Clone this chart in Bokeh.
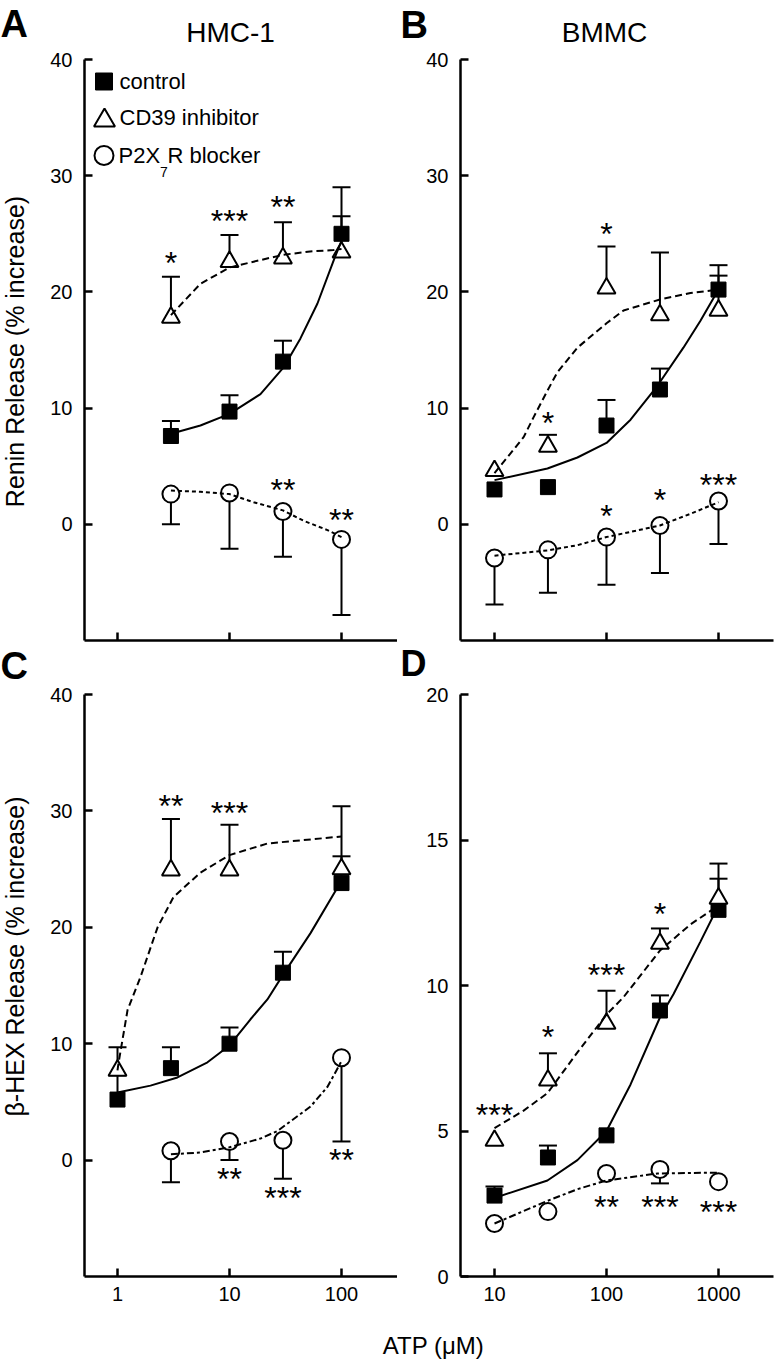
import math
from bokeh.plotting import figure
from bokeh.layouts import column, row
from bokeh.models import Range1d, FixedTicker, PrintfTickFormatter, Label
from bokeh.core.properties import value
from bokeh.embed import file_html
from bokeh.resources import INLINE

FONT = "Liberation Sans"

# ---------------- DATA ----------------
# Panel A : HMC-1, renin release
a_x = [3, 10, 30, 100]
a_ctrl = [7.6, 9.7, 14.0, 25.0]
a_ctrl_sem = [1.3, 1.4, 1.8, 1.5]
a_cd39 = [17.8, 22.6, 22.9, 23.4]
a_cd39_sem = [3.5, 2.3, 3.1, 5.6]
a_p2x7 = [2.6, 2.7, 1.1, -1.3]
a_p2x7_sem = [2.6, 4.8, 3.9, 6.5]
a_fit_ctrl_x = [3, 5.5, 10, 18.9, 30.4, 43, 61, 85, 100]
a_fit_ctrl_y = [7.8, 8.5, 9.5, 11.2, 13.5, 16.0, 19.0, 22.7, 24.4]
a_fit_cd39_x = [3, 5.5, 10, 16.4, 30.4, 55, 85, 100]
a_fit_cd39_y = [18.0, 20.7, 22.1, 22.6, 23.2, 23.5, 23.6, 23.7]
a_fit_p2x7_x = [3, 5.5, 10, 16.4, 30, 46, 75, 100]
a_fit_p2x7_y = [2.9, 2.8, 2.6, 1.9, 1.2, 0.3, -0.5, -1.1]
a_star_x = [3, 10, 30, 30, 100]
a_star_y = [23.0, 26.6, 27.8, 3.5, 0.9]
a_star_t = ["*", "***", "**", "**", "**"]

# Panel B : BMMC, renin release
b_x = [10, 30, 100, 300, 1000]
b_ctrl = [3.0, 3.2, 8.5, 11.6, 20.2]
b_ctrl_sem = [0, 0, 2.2, 1.8, 1.2]
b_cd39 = [4.6, 6.7, 20.3, 18.0, 18.4]
b_cd39_sem = [0, 1.0, 3.6, 5.4, 3.9]
b_p2x7 = [-2.9, -2.2, -1.1, -0.1, 2.0]
b_p2x7_sem = [4.0, 3.7, 4.1, 4.1, 3.7]
b_fit_ctrl_x = [10, 29.7, 55, 100, 164, 284, 486, 688, 1000]
b_fit_ctrl_y = [3.8, 4.8, 5.75, 7.0, 9.0, 11.9, 15.2, 17.5, 20.2]
b_fit_cd39_x = [10, 18.2, 22.3, 29.7, 36.5, 55, 100, 142, 300, 562, 1000]
b_fit_cd39_y = [4.4, 7.5, 9.2, 11.5, 13.1, 15.2, 17.3, 18.4, 19.35, 19.9, 20.2]
b_fit_p2x7_x = [10, 29.7, 55, 100, 300, 562, 1000]
b_fit_p2x7_y = [-2.7, -2.25, -1.8, -1.1, -0.1, 0.9, 1.9]
b_star_x = [30, 100, 100, 300, 1000]
b_star_y = [9.2, 25.5, 1.2, 2.65, 3.9]
b_star_t = ["*", "*", "*", "*", "***"]

# Panel C : HMC-1, beta-HEX release
c_x_ctrl = [1, 3, 10, 30, 100]
c_ctrl = [5.2, 7.9, 10.0, 16.1, 23.8]
c_ctrl_sem = [2.1, 1.8, 1.4, 1.8, 2.3]
c_x_cd39 = [1, 3, 10, 100]
c_cd39 = [7.7, 24.9, 24.9, 25.0]
c_cd39_sem = [2.0, 4.4, 3.9, 5.4]
c_x_p2x7 = [3, 10, 30, 100]
c_p2x7 = [0.8, 1.6, 1.7, 8.8]
c_p2x7_sem = [2.7, 1.6, 3.3, 7.2]
c_fit_ctrl_x = [1, 1.97, 3.43, 6.36, 10, 15.4, 21.8, 30.4, 52.9, 100]
c_fit_ctrl_y = [5.8, 6.4, 7.1, 8.4, 9.85, 12.1, 13.8, 16.0, 19.5, 24.0]
c_fit_cd39_x = [1, 1.02, 1.23, 1.6, 2.28, 3.16, 5.5, 10, 21.8, 100]
c_fit_cd39_y = [7.7, 8.3, 12.9, 15.7, 20.0, 22.6, 24.7, 26.2, 27.2, 27.8]
c_fit_p2x7_x = [3, 5.5, 10, 18.9, 26.8, 52.9, 75, 100]
c_fit_p2x7_y = [0.5, 0.65, 1.1, 1.85, 2.5, 4.6, 6.3, 8.5]
c_star_x = [3, 10, 10, 30, 100]
c_star_y = [30.9, 30.3, -1.15, -2.7, 0.5]
c_star_t = ["**", "***", "**", "***", "**"]

# Panel D : BMMC, beta-HEX release
d_x = [10, 30, 100, 300, 1000]
d_ctrl = [2.78, 4.09, 4.85, 9.14, 12.6]
d_ctrl_sem = [0.31, 0.41, 0, 0.52, 1.07]
d_cd39 = [4.67, 6.74, 8.69, 11.44, 12.99]
d_cd39_sem = [0, 0.93, 1.13, 0.52, 1.2]
d_p2x7 = [1.82, 2.23, 3.54, 3.68, 3.26]
d_p2x7_sem = [0, 0, 0, 0.48, 0]
d_fit_ctrl_x = [10, 29.7, 55, 100, 164, 300, 396, 688, 1000]
d_fit_ctrl_y = [2.7, 3.3, 4.0, 5.0, 6.6, 8.9, 9.7, 11.5, 12.75]
d_fit_cd39_x = [10, 18.2, 29.7, 55, 100, 142, 300, 562, 1000]
d_fit_cd39_y = [5.1, 5.7, 6.3, 7.7, 9.0, 9.6, 11.2, 12.1, 12.75]
d_fit_p2x7_x = [10, 29.7, 55, 100, 285, 1000]
d_fit_p2x7_y = [1.82, 2.6, 3.0, 3.3, 3.54, 3.57]
d_star_x = [10, 30, 100, 300, 100, 300, 1000]
d_star_y = [5.74, 8.45, 10.58, 12.68, 2.61, 2.61, 2.41]
d_star_t = ["***", "*", "***", "*", "**", "***", "***"]

ticks_1_100 = [1, 10, 100]
ticks_10_1000 = [10, 100, 1000]
yticks_40 = [0, 10, 20, 30, 40]
yticks_20 = [0, 5, 10, 15, 20]

panel_titles = ["HMC-1", "BMMC"]
panel_letters = ["A", "B", "C", "D"]
y_titles = ["Renin Release (% increase)", "\u03b2-HEX Release (% increase)"]
x_title = "ATP (\u03bcM)"

# ---------------- layout geometry (page pixels) ----------------
SHIFT = 0.34  # em: baseline correction for rendered text
LEFT_G = dict(cx=30, w=367, fl=84, fr=397)
RIGHT_G = dict(cx=397, w=379, fl=460, fr=773)
TOP_G = dict(cy=48, h=594, ft=59, fb=640)
BOT_G = dict(cy=683, h=633, ft=694, fb=1276)


def make_panel(hg, vg, xr, yr, yticks, xticks, show_xlabels):
    p = figure(width=hg["w"], height=vg["h"], x_axis_type="log",
               x_range=Range1d(*xr), y_range=Range1d(*yr),
               output_backend="svg", toolbar_location=None,
               min_border_left=hg["fl"] - hg["cx"],
               min_border_right=hg["cx"] + hg["w"] - hg["fr"],
               min_border_top=vg["ft"] - vg["cy"],
               min_border_bottom=vg["cy"] + vg["h"] - vg["fb"])
    p.xgrid.visible = False
    p.ygrid.visible = False
    p.outline_line_color = None
    p.background_fill_color = "white"
    p.border_fill_color = "white"
    for ax in p.axis:
        ax.axis_line_color = "black"
        ax.axis_line_width = 2.5
        ax.major_tick_line_color = "black"
        ax.major_tick_line_width = 2.5
        ax.major_tick_in = 8
        ax.major_tick_out = 0
        ax.minor_tick_line_color = None
        ax.major_label_text_font = FONT
        ax.major_label_text_font_size = "20px"
        ax.major_label_text_color = "black"
    p.yaxis.ticker = FixedTicker(ticks=yticks)
    p.yaxis.major_label_standoff = 12
    p.xaxis.ticker = FixedTicker(ticks=xticks)
    p.xaxis.formatter = PrintfTickFormatter(format="%d")
    if show_xlabels:
        p.xaxis.major_label_standoff = 10
    else:
        p.xaxis.major_label_text_color = None
        p.xaxis.major_label_text_font_size = "1px"
        p.xaxis.major_label_standoff = 0
    p._geo = (hg, vg, xr, yr)
    return p


def strip(x0, y0, w, h):
    p = figure(width=w, height=h, x_range=Range1d(x0, x0 + w), y_range=Range1d(y0 + h, y0),
               x_axis_type=None, y_axis_type=None, min_border=0,
               output_backend="svg", toolbar_location=None)
    p.outline_line_color = None
    p.xgrid.visible = False
    p.ygrid.visible = False
    p.background_fill_color = "white"
    p.border_fill_color = "white"
    return p


def stext(p, px, py, text, size, align="left", bold=False, angle=0.0):
    s = float(size.replace("px", ""))
    if angle:
        px = px - SHIFT * s
    else:
        py = py - SHIFT * s
    p.text([px], [py], text=[text], text_font=value(FONT), text_font_size=value(size),
           text_align=align, text_baseline="alphabetic", angle=angle,
           text_color="black", text_font_style="bold" if bold else "normal")


def to_data(p, px, py):
    hg, vg, xr, yr = p._geo
    lx0, lx1 = math.log10(xr[0]), math.log10(xr[1])
    x = 10 ** (lx0 + (px - hg["fl"]) / (hg["fr"] - hg["fl"]) * (lx1 - lx0))
    y = yr[0] + (vg["fb"] - py) / (vg["fb"] - vg["ft"]) * (yr[1] - yr[0])
    return x, y


def label(p, px, py, text, size):
    s = float(size.replace("px", ""))
    x, y = to_data(p, px, py - SHIFT * s)
    p.add_layout(Label(x=x, y=y, text=text, text_font=FONT, text_font_size=size,
                       text_align="left", text_baseline="alphabetic", text_color="black"))


def errbars(p, xs, ys, sems, direction):
    ex = [x for x, s in zip(xs, sems) if s > 0]
    y0 = [y for y, s in zip(ys, sems) if s > 0]
    y1 = [y + direction * s for y, s in zip(ys, sems) if s > 0]
    if ex:
        p.segment(ex, y0, ex, y1, line_color="black", line_width=2)
        p.scatter(ex, y1, marker="dash", size=18, line_color="black", line_width=2)


def markers(p, xs, ys, kind, size=None):
    if kind == "ctrl":
        p.scatter(xs, ys, marker="square", size=size or 15, fill_color="black",
                  line_color="black", line_width=1)
    elif kind == "cd39":
        p.scatter(xs, ys, marker="triangle", size=size or 18, fill_color="white",
                  line_color="black", line_width=2)
    else:
        p.scatter(xs, ys, marker="circle", size=size or 17, fill_color="white",
                  line_color="black", line_width=2)


def curve(p, xs, ys, dash):
    p.line(xs, ys, line_color="black", line_width=2, line_dash=dash)


def stars(p, xs, ys, ts):
    p.text(xs, ys, text=ts, text_font=value(FONT), text_font_size=value("32px"),
           text_align="center", text_baseline="alphabetic", y_offset=6,
           text_color="black")


def draw_panel(p, ctrl, cd39, p2x7, fits, star, p2x7_dash):
    for (xs, ys, ss), d in ((ctrl, 1), (cd39, 1), (p2x7, -1)):
        errbars(p, xs, ys, ss, d)
    markers(p, ctrl[0], ctrl[1], "ctrl")
    markers(p, cd39[0], cd39[1], "cd39")
    markers(p, p2x7[0], p2x7[1], "p2x7")
    curve(p, fits[0][0], fits[0][1], "solid")
    curve(p, fits[1][0], fits[1][1], "7 4")
    curve(p, fits[2][0], fits[2][1], p2x7_dash)
    stars(p, *star)


XR_L = (10 ** ((84 - 117) / 112), 10 ** ((397 - 117) / 112))
XR_R = (10 ** (1 + (460 - 494) / 112), 10 ** (1 + (773 - 494) / 112))

pA = make_panel(LEFT_G, TOP_G, XR_L, (-10, 40), yticks_40, ticks_1_100, False)
pB = make_panel(RIGHT_G, TOP_G, XR_R, (-10, 40), yticks_40, ticks_10_1000, False)
pC = make_panel(LEFT_G, BOT_G, XR_L, (-10, 40), yticks_40, ticks_1_100, True)
pD = make_panel(RIGHT_G, BOT_G, XR_R, (0, 20), yticks_20, ticks_10_1000, True)

draw_panel(pA, (a_x, a_ctrl, a_ctrl_sem), (a_x, a_cd39, a_cd39_sem), (a_x, a_p2x7, a_p2x7_sem),
           ((a_fit_ctrl_x, a_fit_ctrl_y), (a_fit_cd39_x, a_fit_cd39_y), (a_fit_p2x7_x, a_fit_p2x7_y)),
           (a_star_x, a_star_y, a_star_t), "4 3")
draw_panel(pB, (b_x, b_ctrl, b_ctrl_sem), (b_x, b_cd39, b_cd39_sem), (b_x, b_p2x7, b_p2x7_sem),
           ((b_fit_ctrl_x, b_fit_ctrl_y), (b_fit_cd39_x, b_fit_cd39_y), (b_fit_p2x7_x, b_fit_p2x7_y)),
           (b_star_x, b_star_y, b_star_t), "4 3")
draw_panel(pC, (c_x_ctrl, c_ctrl, c_ctrl_sem), (c_x_cd39, c_cd39, c_cd39_sem), (c_x_p2x7, c_p2x7, c_p2x7_sem),
           ((c_fit_ctrl_x, c_fit_ctrl_y), (c_fit_cd39_x, c_fit_cd39_y), (c_fit_p2x7_x, c_fit_p2x7_y)),
           (c_star_x, c_star_y, c_star_t), "7 3 3 3")
draw_panel(pD, (d_x, d_ctrl, d_ctrl_sem), (d_x, d_cd39, d_cd39_sem), (d_x, d_p2x7, d_p2x7_sem),
           ((d_fit_ctrl_x, d_fit_ctrl_y), (d_fit_cd39_x, d_fit_cd39_y), (d_fit_p2x7_x, d_fit_p2x7_y)),
           (d_star_x, d_star_y, d_star_t), "7 3 3 3")

# legend (inside panel A)
for (px, py), kind, sz in (((103.5, 81), "ctrl", 17), ((104, 120), "cd39", 21), ((103.5, 155), "p2x7", 19)):
    lx, ly = to_data(pA, px, py)
    markers(pA, [lx], [ly], kind, sz)
label(pA, 119, 88, "control", "22px")
label(pA, 119, 124, "CD39 inhibitor", "22px")
label(pA, 118, 162, "P2X", "22px")
label(pA, 159.6, 176, "7", "14px")
label(pA, 167, 162, "R blocker", "22px")

# left strip: panel letters A, C and the y-axis titles
ls = strip(0, 0, 30, 1363)
stext(ls, 0, 36, panel_letters[0], "38px", bold=True)
stext(ls, 0, 678, panel_letters[2], "38px", bold=True)
stext(ls, 23, 351, y_titles[0], "25px", align="center", angle=math.pi / 2)
stext(ls, 23, 956, y_titles[1], "25px", align="center", angle=math.pi / 2)

# header strips
h1 = strip(30, 0, 746, 48)
stext(h1, 230, 42, panel_titles[0], "28px", align="center")
stext(h1, 400, 37, panel_letters[1], "38px", bold=True)
stext(h1, 604, 42, panel_titles[1], "28px", align="center")

h2 = strip(30, 642, 746, 41)
stext(h2, 400, 675, panel_letters[3], "36px", bold=True)

# x-axis title strip
ft = strip(30, 1316, 746, 47)
stext(ft, 433, 1353, x_title, "24px", align="center")

right = column(h1, row(pA, pB), h2, row(pC, pD), ft)
layout = row(ls, right)
open("out.html", "w").write(file_html(layout, INLINE))
